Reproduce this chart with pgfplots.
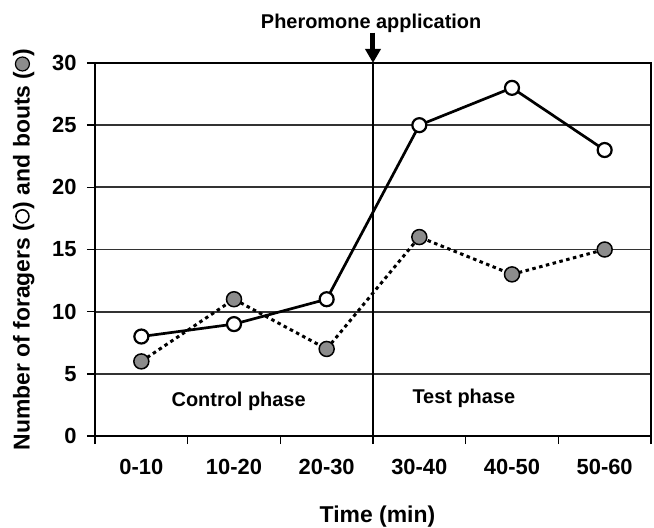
\documentclass[border=0pt]{standalone}
\usepackage{pgfplots}
\pgfplotsset{compat=1.18}
\usepackage{fontspec}
\setmainfont{Liberation Sans}
\usetikzlibrary{arrows.meta}
\definecolor{mgray}{RGB}{140,140,140}
\newcommand{\opencirc}{\tikz[baseline=-0.6ex]\draw[line width=1.6bp, fill=white] (0,0) circle (6.5bp);}
\newcommand{\graycirc}{\tikz[baseline=-0.6ex]\draw[line width=1.2bp, fill=mgray] (0,0) circle (7bp);}
\begin{document}
\begin{tikzpicture}
\useasboundingbox (-95bp,-92bp) rectangle (559bp,436bp);
\begin{axis}[
  at={(0,0)}, anchor=south west,
  scale only axis, width=556bp, height=373bp,
  xmin=-0.5, xmax=5.5, ymin=0, ymax=30,
  xtick={0,...,5},
  xticklabels={0-10,10-20,20-30,30-40,40-50,50-60},
  minor xtick={-0.5,0.5,...,5.5},
  ytick={0,5,...,30},
  xtick pos=bottom, ytick pos=left,
  tick align=outside,
  major tick length=8bp, minor tick length=8bp,
  major x tick style={draw=none},
  minor x tick style={line width=1.6bp, black},
  major y tick style={line width=1.6bp, black},
  ymajorgrids,
  major grid style={line width=1.7bp, black!80},
  axis line style={line width=2.2bp, black},
  clip=false,
  /pgf/number format/assume math mode=true,
  tick label style={font=\bfseries\fontsize{22}{22}\selectfont},
  xticklabel style={yshift=-12bp},
  yticklabel style={xshift=-7bp},
  label style={font=\bfseries\fontsize{23}{23}\selectfont},
  xlabel={Time (min)},
  xlabel style={at={(axis description cs:0.508,-0.2332)}, anchor=base},
  ylabel={Number of foragers (\opencirc) and bouts (\graycirc)},
  ylabel style={at={(axis description cs:-0.128,0.5)}, anchor=center},
]
\draw[line width=2.7bp, black] (axis cs:2.5,0) -- (axis cs:2.5,30);
\draw[line width=5bp, -{Triangle[width=15bp,length=14bp]}] (axis cs:2.5,32.45) -- (axis cs:2.5,30.0);
\node[anchor=base, font=\bfseries\fontsize{20}{20}\selectfont] at (axis cs:2.48,32.74) {Pheromone application};
\node[anchor=base, font=\bfseries\fontsize{20}{20}\selectfont] at (axis cs:1.05,2.41) {Control phase};
\node[anchor=base, font=\bfseries\fontsize{20}{20}\selectfont] at (axis cs:3.48,2.65) {Test phase};
\addplot[black, line width=3bp, dash pattern=on 3.5bp off 3.5bp, mark=*, mark size=7.5bp,
  mark options={solid, fill=mgray, draw=black, line width=1.5bp}]
  coordinates {(0,6) (1,11) (2,7) (3,16) (4,13) (5,15)};
\addplot[black, line width=2.7bp, mark=*, mark size=7bp,
  mark options={solid, fill=white, draw=black, line width=2.2bp}]
  coordinates {(0,8) (1,9) (2,11) (3,25) (4,28) (5,23)};
\end{axis}
\end{tikzpicture}
\end{document}
